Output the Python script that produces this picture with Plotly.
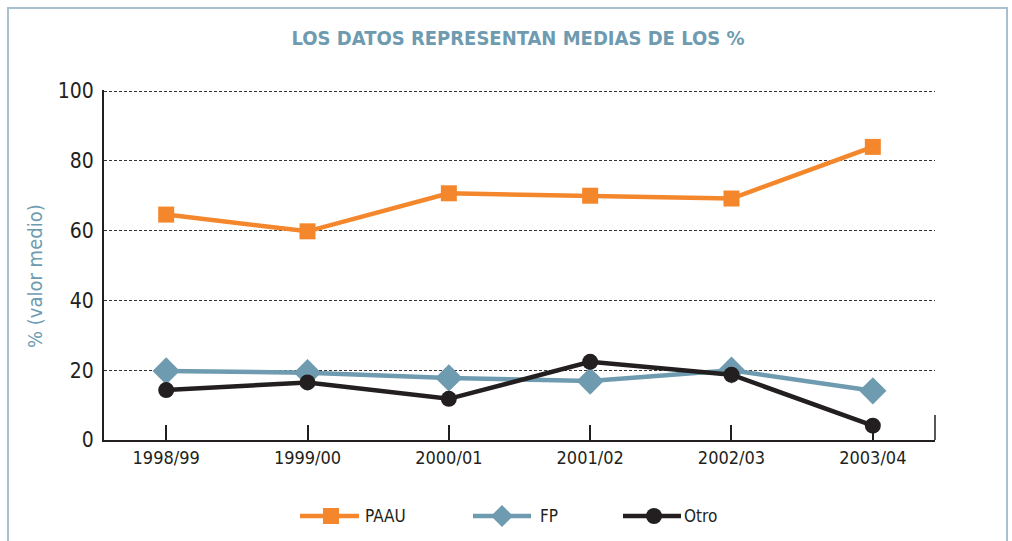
import plotly.graph_objects as go

# ---- data ----
categories = ["1998/99", "1999/00", "2000/01", "2001/02", "2002/03", "2003/04"]
paau = [64.6, 59.8, 70.7, 70.0, 69.2, 84.0]
fp = [19.8, 19.3, 17.8, 16.9, 20.0, 14.1]
otro = [14.3, 16.5, 11.8, 22.4, 18.7, 4.1]
series_names = ["PAAU", "FP", "Otro"]
y_ticks = [0, 20, 40, 60, 80, 100]

# ---- styles ----
C_ORANGE = "#f4862c"
C_BLUE = "#6e9bb0"
C_BLACK = "#231f20"
FONT = "Liberation Sans Narrow, DejaVu Sans Condensed, Arial Narrow, sans-serif"

W, H = 1012, 541
L, R, T, B = 104, 77, 90, 101
PW, PH = W - L - R, H - T - B


def px_x(p):
    return (p - L) / PW


def px_y(p):
    return (H - B - p) / PH


fig = go.Figure()

styles = [
    dict(color=C_ORANGE, symbol="square", size=16),
    dict(color=C_BLUE, symbol="diamond", size=21),
    dict(color=C_BLACK, symbol="circle", size=16),
]
for name, vals, st in zip(series_names, [paau, fp, otro], styles):
    fig.add_trace(go.Scatter(
        x=categories, y=vals, name=name, mode="lines+markers",
        line=dict(color=st["color"], width=4.5),
        marker=dict(color=st["color"], symbol=st["symbol"], size=st["size"]),
        showlegend=False, cliponaxis=False,
    ))

# ---- custom legend drawn in paper coordinates ----
legend_line_x0 = [300, 473, 623]
legend_line_x1 = [359, 531, 681]
legend_marker_x = [331, 502, 654]
legend_text_x = [365, 540, 684]
legend_y = 516

shapes = [
    # outer frame
    dict(type="rect", xref="paper", yref="paper",
         x0=px_x(8), x1=px_x(1007), y0=px_y(560), y1=px_y(8),
         line=dict(color="#a9c1cf", width=2), layer="below"),
    # right-end tick on x axis
    dict(type="line", xref="paper", yref="paper",
         x0=1, x1=1, y0=0, y1=px_y(415),
         line=dict(color=C_BLACK, width=1.5)),
]

for i, st in enumerate(styles):
    c = st["color"]
    shapes.append(dict(type="line", xref="paper", yref="paper",
                       x0=px_x(legend_line_x0[i]), x1=px_x(legend_line_x1[i]),
                       y0=px_y(legend_y), y1=px_y(legend_y),
                       line=dict(color=c, width=4.5)))
    mx = legend_marker_x[i]
    if st["symbol"] == "square":
        shapes.append(dict(type="rect", xref="paper", yref="paper",
                           x0=px_x(mx - 8), x1=px_x(mx + 8),
                           y0=px_y(legend_y + 8), y1=px_y(legend_y - 8),
                           fillcolor=c, line=dict(width=0)))
    elif st["symbol"] == "diamond":
        d = 11
        path = "M {} {} L {} {} L {} {} L {} {} Z".format(
            px_x(mx - d), px_y(legend_y), px_x(mx), px_y(legend_y - d),
            px_x(mx + d), px_y(legend_y), px_x(mx), px_y(legend_y + d))
        shapes.append(dict(type="path", xref="paper", yref="paper", path=path,
                           fillcolor=c, line=dict(width=0)))
    else:
        shapes.append(dict(type="circle", xref="paper", yref="paper",
                           x0=px_x(mx - 8), x1=px_x(mx + 8),
                           y0=px_y(legend_y + 8), y1=px_y(legend_y - 8),
                           fillcolor=c, line=dict(width=0)))
    fig.add_annotation(x=px_x(legend_text_x[i]), y=px_y(legend_y), xref="paper", yref="paper",
                       text=series_names[i], showarrow=False, xanchor="left",
                       yanchor="middle", xshift=-2,
                       font=dict(family=FONT, size=17, color=C_BLACK))

# y-axis title as a fixed annotation
fig.add_annotation(x=px_x(35), y=px_y(276), xref="paper", yref="paper",
                   text="% (valor medio)", showarrow=False, textangle=-90,
                   xanchor="center", yanchor="middle",
                   font=dict(family=FONT, size=20, color=C_BLUE))

fig.update_layout(
    width=W, height=H,
    margin=dict(l=L, r=R, t=T, b=B),
    paper_bgcolor="white", plot_bgcolor="white",
    title=dict(text="<b>LOS DATOS REPRESENTAN MEDIAS DE LOS %</b>",
               x=518 / W, xref="container", xanchor="center",
               y=1 - 38 / H, yref="container", yanchor="middle",
               font=dict(family=FONT, size=20, color=C_BLUE)),
    xaxis=dict(
        type="category", range=[-0.44, 5.44],
        showline=True, linecolor=C_BLACK, linewidth=2,
        ticks="inside", ticklen=15, tickwidth=1.5, tickcolor=C_BLACK,
        showgrid=False, zeroline=False,
        tickfont=dict(family=FONT, size=18, color=C_BLACK),
    ),
    yaxis=dict(
        range=[0, 100.3], tickvals=y_ticks,
        showline=True, linecolor=C_BLACK, linewidth=2,
        showgrid=True, gridcolor="#333333", griddash="3px,2px", gridwidth=1,
        zeroline=False, ticks="", ticklabelstandoff=4,
        tickfont=dict(family=FONT, size=21, color=C_BLACK),
    ),
    shapes=shapes,
    showlegend=False,
)

fig.write_html("out.html", config={"displayModeBar": False},
               post_script="document.body.style.margin='0';")
